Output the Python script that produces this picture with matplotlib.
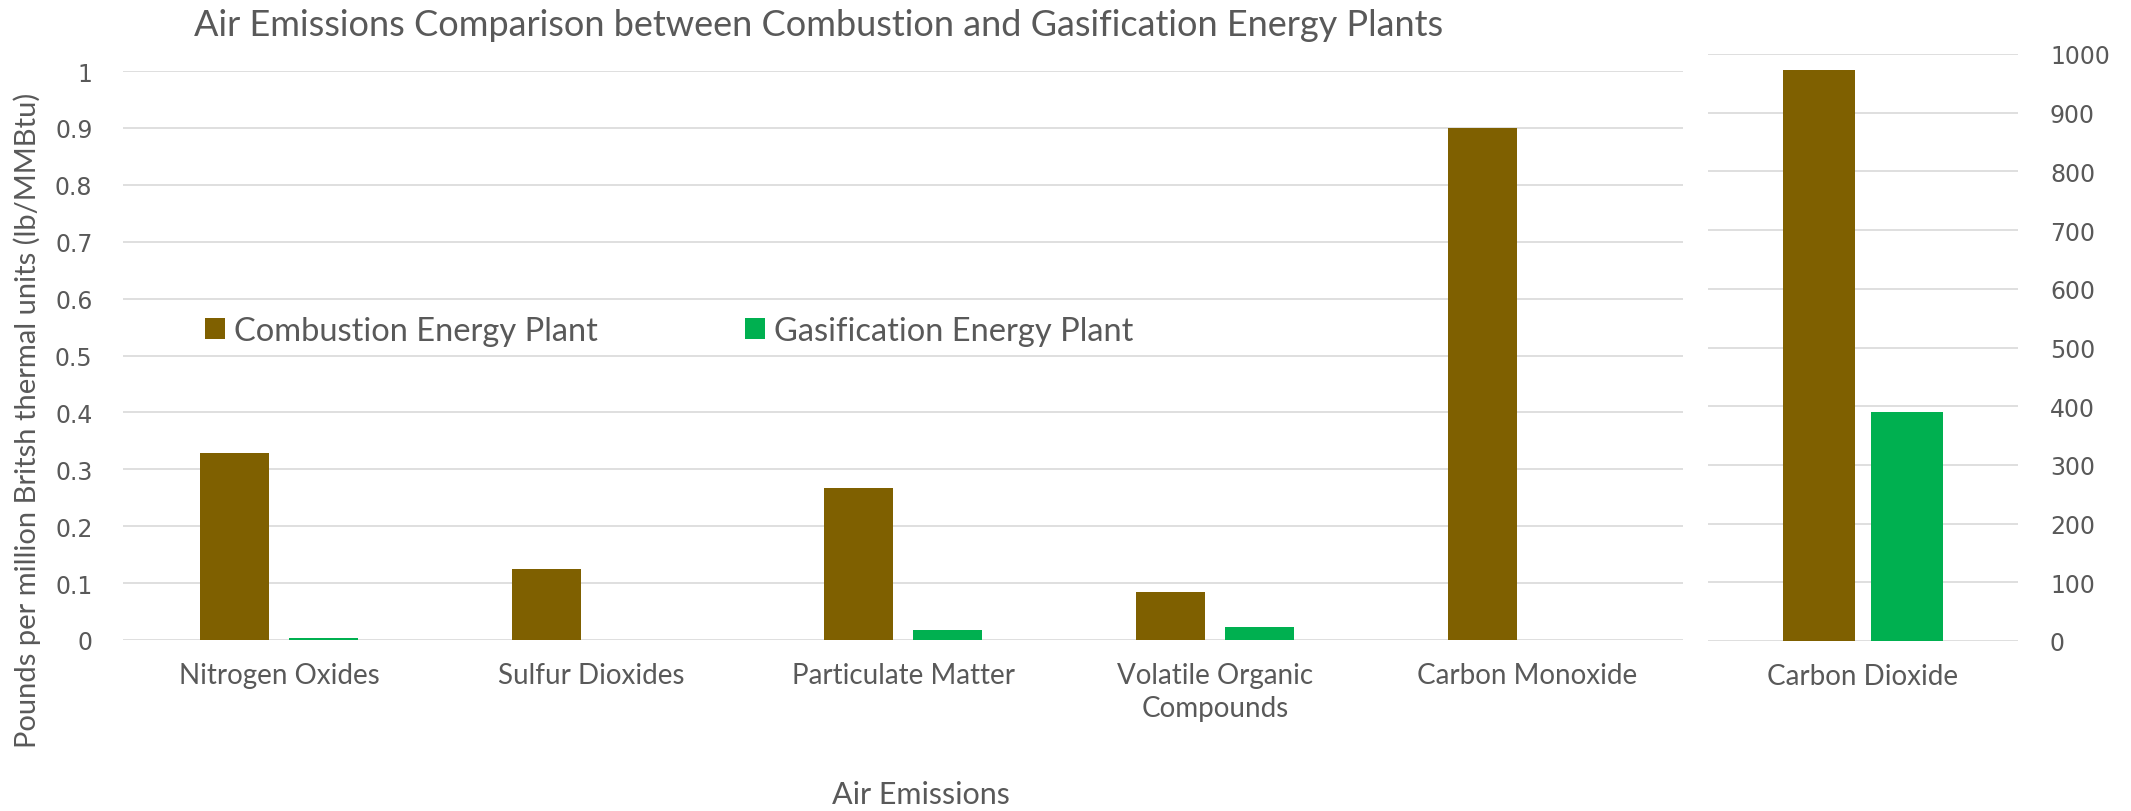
import numpy as np
import matplotlib
matplotlib.use("Agg")
import matplotlib.pyplot as plt
from matplotlib.patches import Patch

# ---- data ----
categories = ["Nitrogen Oxides", "Sulfur Dioxides", "Particulate Matter",
              "Volatile Organic\nCompounds", "Carbon Monoxide"]
combustion = [0.328, 0.125, 0.268, 0.085, 0.90]
gasification = [0.004, 0.0, 0.018, 0.023, 0.0]

co2_categories = ["Carbon Dioxide"]
co2_combustion = [972]
co2_gasification = [390]

series_names = ["Combustion Energy Plant", "Gasification Energy Plant"]
colors = ["#7F6000", "#00B050"]
text_col = "#595959"
grid_col = "#D9D9D9"

plt.rcParams["font.family"] = ["Lato", "DejaVu Sans"]

W, H = 2131, 812
fig = plt.figure(figsize=(W / 100, H / 100), dpi=100)

def frac(x0, y_top, x1, y_bot):
    return [x0 / W, 1 - y_bot / H, (x1 - x0) / W, (y_bot - y_top) / H]

ax = fig.add_axes(frac(123, 72, 1683, 641))
ax2 = fig.add_axes(frac(1708, 55, 2018, 642))

def style(a):
    for s in a.spines.values():
        s.set_visible(False)
    a.set_axisbelow(True)
    a.grid(axis="y", color=grid_col, linewidth=1.2)
    a.tick_params(length=0, colors=text_col)
    for t in a.get_yticklabels():
        t.set_fontfamily("DejaVu Sans")
        t.set_fontsize(17)
    for t in a.get_xticklabels():
        t.set_fontsize(20)

# ---- left panel ----
x = np.arange(len(categories))
w = 0.222
ax.bar(x - 0.143, combustion, w, color=colors[0])
ax.bar(x + 0.143, gasification, w, color=colors[1])
ax.set_xlim(-0.5, len(categories) - 0.5)
ax.set_ylim(0, 1)
ax.set_yticks(np.arange(0, 1.01, 0.1))
ax.set_yticklabels(["0"] + [f"{v:.1f}" for v in np.arange(0.1, 0.95, 0.1)] + ["1"])
ax.set_xticks(x)
ax.set_xticklabels(categories, linespacing=1.3)
style(ax)
ax.tick_params(axis="y", pad=22)
ax.tick_params(axis="x", pad=16)

# ---- right panel (CO2, own scale) ----
x2 = np.arange(len(co2_categories))
w2 = 0.232
ax2.bar(x2 - 0.141, co2_combustion, w2, color=colors[0])
ax2.bar(x2 + 0.141, co2_gasification, w2, color=colors[1])
ax2.set_xlim(-0.5, 0.5)
ax2.set_ylim(0, 1000)
ax2.set_yticks(np.arange(0, 1001, 100))
ax2.set_xticks(x2)
ax2.set_xticklabels(co2_categories)
ax2.yaxis.tick_right()
style(ax2)
ax2.tick_params(axis="y", pad=23)
ax2.tick_params(axis="x", pad=16)

# ---- texts ----
fig.text(819 / W, 1 - 26 / H,
         "Air Emissions Comparison between Combustion and Gasification Energy Plants",
         ha="center", va="center", fontsize=26, color=text_col)
fig.text(921 / W, 1 - 795 / H, "Air Emissions", ha="center", va="center",
         fontsize=22, color=text_col)
fig.text(27 / W, 1 - 420 / H, "Pounds per million Britsh thermal units (lb/MMBtu)",
         ha="center", va="center", rotation=90, fontsize=21, color=text_col)

handles = [Patch(facecolor=c) for c in colors]
fig.legend(handles, series_names, loc="center left",
           bbox_to_anchor=(205 / W, 1 - 332 / H), ncol=2, frameon=False,
           fontsize=23.5, labelcolor=text_col, handlelength=0.6, handleheight=0.6,
           handletextpad=0.3, columnspacing=4.5, borderpad=0, borderaxespad=0)

fig.savefig("out.png", dpi=100, facecolor="white")
